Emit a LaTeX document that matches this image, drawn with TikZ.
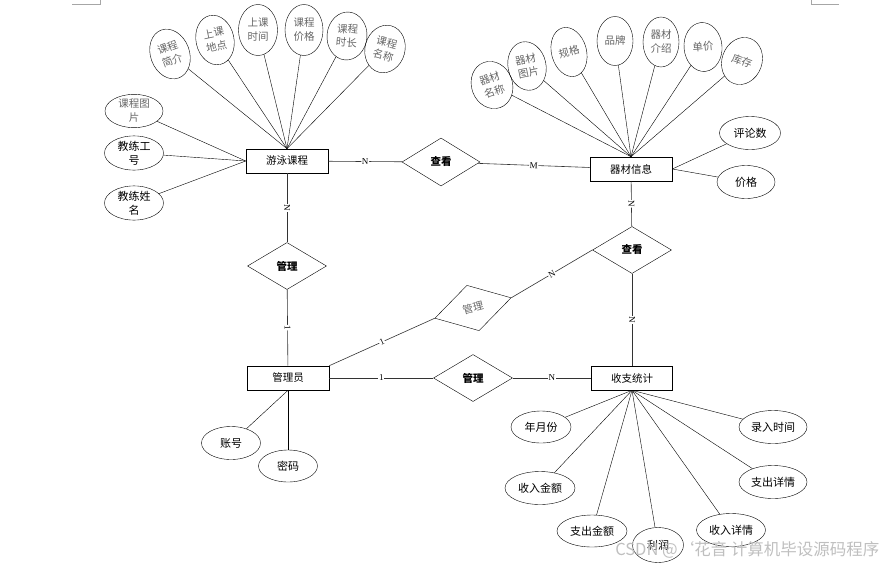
\documentclass[tikz,border=0pt]{standalone}
\usepackage{fontspec}
\setmainfont{Noto Sans CJK SC}
\newfontfamily\labfont{Liberation Serif}
\usetikzlibrary{shapes.geometric}

\begin{document}
\begin{tikzpicture}[x=1pt,y=-1pt,font=\fontsize{10.5}{14}\selectfont,
  entity/.style={draw,semithick,minimum width=82pt,minimum height=24pt,inner sep=0pt},
  rel/.style={draw,diamond,minimum width=79pt,minimum height=47pt,inner sep=0pt,font=\fontsize{10.5}{12}\selectfont\bfseries},
  attr/.style={draw,ellipse,inner sep=0pt,align=center,font=\fontsize{11}{14}\selectfont},
  faint/.style={text=black!60,font=\fontsize{10.5}{14}\selectfont},
  rline/.style={semithick,black!80},
  card/.style={midway,sloped,fill=white,inner sep=0.6pt,text=black,font=\labfont\fontsize{9}{9}\selectfont}]
\useasboundingbox (0,0) rectangle (885,565);
% page corner marks
\draw[black!35] (72,4.5) -- (100,4.5) -- (100,0);
\draw[black!35] (839,4.5) -- (811,4.5) -- (811,0);

% entities
\node[entity] (kecheng) at (287,161) {游泳课程};
\node[entity] (qicai) at (631,169) {器材信息};
\node[entity] (guanli) at (288,378) {管理员};
\node[entity,minimum width=81pt] (shouzhi) at (632,378) {收支统计};

% relations
\node[rel,minimum width=78pt,minimum height=48pt] (chakan1) at (441,162) {查看};
\node[rel] (guanli1) at (287,266) {管理};
\node[rel] (chakan2) at (632,250) {查看};
\node[rel,rotate=15,text=black!60,font=\fontsize{10.5}{12}\selectfont] (guanli2) at (473,308) {管理};
\node[rel] (guanli3) at (473,378) {管理};

% attributes of kecheng
\node[attr,faint,minimum width=39pt,minimum height=51pt,rotate=20] (jianjie) at (170,54) {课程\\简介};
\node[attr,faint,minimum width=38pt,minimum height=50pt,rotate=12] (didian) at (215,40) {上课\\地点};
\node[attr,faint,minimum width=39pt,minimum height=51pt] (shijian) at (258,30) {上课\\时间};
\node[attr,faint,minimum width=38pt,minimum height=51pt] (jiage1) at (304,30) {课程\\价格};
\node[attr,faint,minimum width=40pt,minimum height=48pt,rotate=-5] (shichang) at (347,36) {课程\\时长};
\node[attr,faint,minimum width=40pt,minimum height=48pt,rotate=-15] (mingcheng1) at (385,49) {课程\\名称};
\node[attr,faint,minimum width=58pt,minimum height=33pt] (tupian1) at (134,111) {课程图\\片};
\node[attr,minimum width=59pt,minimum height=33pt] (gonghao) at (134,153) {教练工\\号};
\node[attr,minimum width=59pt,minimum height=33pt] (xingming) at (134,203) {教练姓\\名};

% attributes of qicai
\node[attr,faint,minimum width=41pt,minimum height=48pt,rotate=20] (mingcheng2) at (492,85) {器材\\名称};
\node[attr,faint,minimum width=38pt,minimum height=49pt,rotate=12] (tupian2) at (527,66) {器材\\图片};
\node[attr,faint,minimum width=35pt,minimum height=50pt,rotate=15] (guige) at (569,52) {规格};
\node[attr,faint,minimum width=36pt,minimum height=49pt] (pinpai) at (615,41) {品牌};
\node[attr,faint,minimum width=36pt,minimum height=50pt] (jieshao) at (661,42) {器材\\介绍};
\node[attr,faint,minimum width=38pt,minimum height=49pt,rotate=5] (danjia) at (703,47) {单价};
\node[attr,faint,minimum width=40pt,minimum height=48pt,rotate=-20] (kucun) at (742,61) {库存};
\node[attr,minimum width=61pt,minimum height=33pt] (pinglun) at (750,133) {评论数};
\node[attr,minimum width=58pt,minimum height=33pt] (jiage2) at (746,182) {价格};

% attributes of guanli
\node[attr,minimum width=59pt,minimum height=33pt] (zhanghao) at (231,443) {账号};
\node[attr,minimum width=59pt,minimum height=32pt] (mima) at (288,466) {密码};

% attributes of shouzhi
\node[attr,minimum width=60pt,minimum height=32pt] (nianyue) at (541,427) {年月份};
\node[attr,minimum width=68pt,minimum height=33pt] (luru) at (773,427) {录入时间};
\node[attr,minimum width=70pt,minimum height=33pt] (shouru) at (540,488) {收入金额};
\node[attr,minimum width=68pt,minimum height=33pt] (zhichuxq) at (773,482) {支出详情};
\node[attr,minimum width=70pt,minimum height=32pt] (zhichu) at (592,531) {支出金额};
\node[attr,minimum width=51pt,minimum height=35pt] (lirun) at (658,545) {利润};
\node[attr,minimum width=69pt,minimum height=33pt] (shouruxq) at (731,530) {收入详情};

% attribute lines
\path (kecheng.north) edge (jianjie) edge (didian) edge (shijian)
  edge (jiage1) edge (shichang) edge (mingcheng1);
\path (kecheng.west) edge (tupian1) edge (gonghao) edge (xingming);
\path (qicai.north) edge (mingcheng2) edge (tupian2) edge (guige)
  edge (pinpai) edge (jieshao) edge (danjia) edge (kucun);
\path (qicai.east) edge (pinglun) edge (jiage2);
\path (guanli.south) edge (zhanghao) edge (mima);
\path (shouzhi.south) edge (nianyue) edge (luru) edge (shouru) edge (zhichuxq)
  edge (zhichu) edge (lirun) edge (shouruxq);

% relation lines
\draw[rline] (kecheng) -- node[card]{N} (chakan1);
\draw[rline] (chakan1) -- node[card]{M} (qicai);
\draw[rline] (kecheng) -- node[card]{N} (guanli1);
\draw[rline] (guanli1) -- node[card]{1} (guanli);
\draw[rline] (guanli.north east) -- node[card]{1} (guanli2.west);
\draw[rline] (guanli2.east) -- node[card]{N} (chakan2.west);
\draw[rline] (qicai) -- node[card]{N} (chakan2);
\draw[rline] (chakan2) -- node[card]{N} (shouzhi);
\draw[rline] (guanli) -- node[card]{1} (guanli3);
\draw[rline] (guanli3) -- node[card]{N} (shouzhi);

\node[text=black!25,font=\fontsize{16.5}{16.5}\selectfont,anchor=east] (shuiyin) at (883,550) {CSDN @‘花音 计算机毕设源码程序};
\end{tikzpicture}
\end{document}
